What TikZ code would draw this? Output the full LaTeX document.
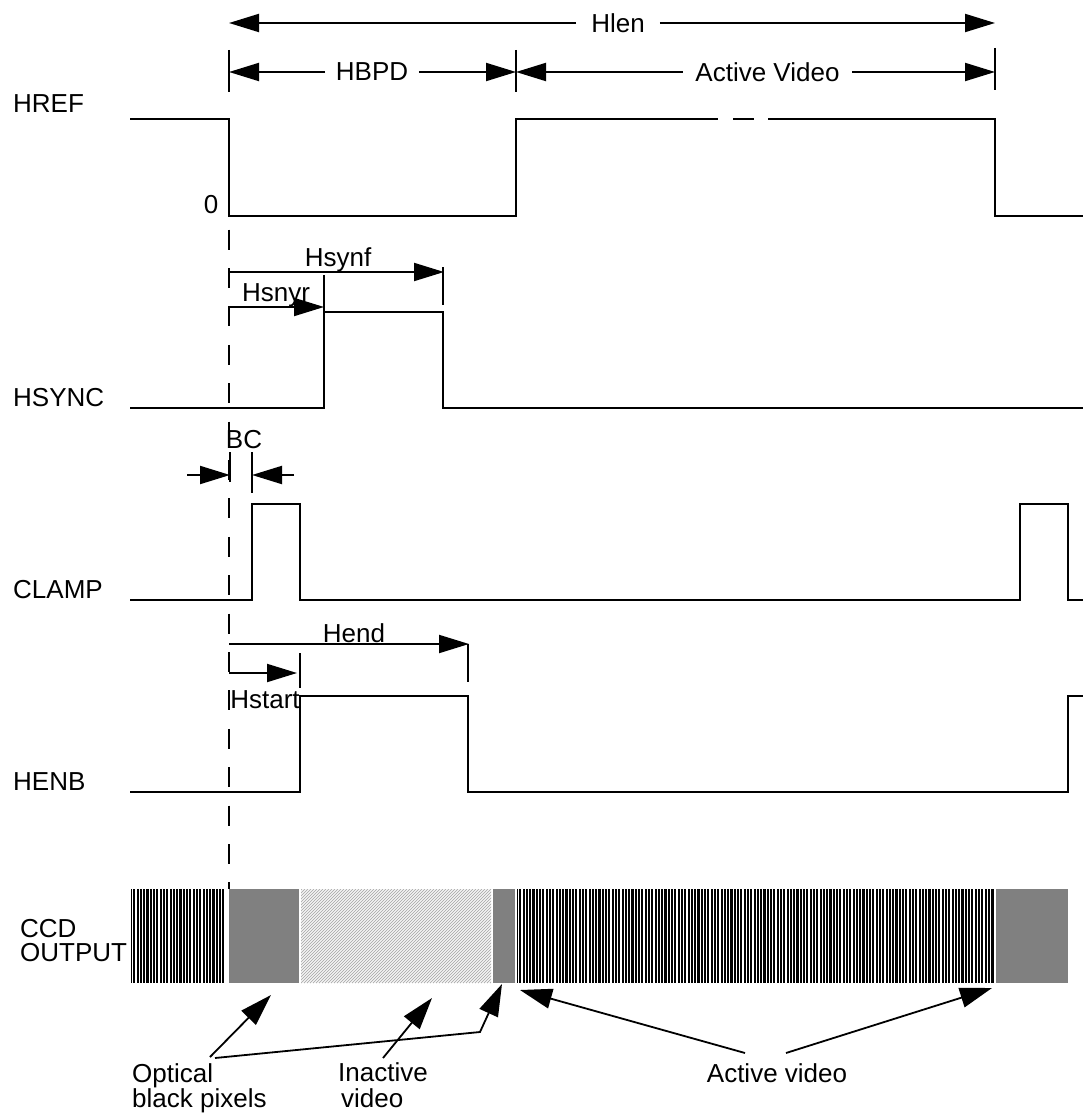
\documentclass[tikz,border=0pt]{standalone}
\usepackage{fontspec}
\setmainfont{Liberation Sans}
\usetikzlibrary{arrows.meta}
\definecolor{ccdgray}{RGB}{128,128,128}
\begin{document}
\begin{tikzpicture}[x=1pt,y=-1pt,
  sig/.style={line width=2.6pt},
  dimln/.style={line width=2pt},
  dimarr/.style={line width=2pt,-{Triangle[length=30pt,width=18pt]}},
  callout/.style={line width=1.8pt,-{Triangle[length=32pt,width=20pt]}},
  lbl/.style={font=\fontsize{26}{24}\selectfont,inner sep=0pt}]
\useasboundingbox (0,0) rectangle (1083,1115);
\fill[white] (0,0) rectangle (1083,1115);

% ---------- left labels
\node[lbl,anchor=base west] (lhref) at (13,113) {HREF};
\node[lbl,anchor=base west] (lhsync) at (13,406) {HSYNC};
\node[lbl,anchor=base west] (lclamp) at (13,598) {CLAMP};
\node[lbl,anchor=base west] (lhenb) at (13,790) {HENB};
\node[lbl,anchor=north west,align=left] (lccd) at (20,919) {CCD\\OUTPUT};

% ---------- top dimension lines
\node[lbl,inner xsep=15pt] (hlen) at (618,23) {Hlen};
\draw[dimarr] (hlen.west) -- (229,23);
\draw[dimarr] (hlen.east) -- (995,23);

\draw[dimln] (229,50) -- (229,92);
\draw[dimln] (516,50) -- (516,92);
\draw[dimln] (995,48) -- (995,90);
\node[lbl,inner xsep=10.5pt] (hbpd) at (372,72) {HBPD};
\draw[dimarr] (hbpd.west) -- (229,72);
\draw[dimarr] (hbpd.east) -- (516,72);
\node[lbl,inner xsep=12.5pt] (actv) at (767.5,72) {Active Video};
\draw[dimarr] (actv.west) -- (516,72);
\draw[dimarr] (actv.east) -- (995,72);

% ---------- HREF
\draw[sig] (130,119) -- (229,119) -- (229,216) -- (516,216) -- (516,119) -- (718,119);
\draw[sig] (733,119) -- (754,119);
\draw[sig] (768,119) -- (995,119) -- (995,216) -- (1083,216);
\node[lbl,anchor=base] (zero) at (211,214) {0};

% ---------- reference dashed line
\draw[line width=2pt,dash pattern=on 20pt off 18.4pt] (229,229.6) -- (229,889);

% ---------- HSYNC
\draw[sig] (130,408) -- (324,408) -- (324,312) -- (443,312) -- (443,408) -- (1083,408);
\draw[dimln] (443,267) -- (443,305);
\draw[dimln] (324,275) -- (324,312);
\draw[dimarr] (229,272) -- (444,272);
\draw[dimarr] (229,307) -- (324,307);
\node[lbl,anchor=base] (hsynf) at (338,266) {Hsynf};
\node[lbl,anchor=base] (hsnyr) at (276,301) {Hsnyr};

% ---------- CLAMP
\draw[sig] (130,600) -- (252,600) -- (252,504) -- (300,504) -- (300,600) -- (1020,600)
  -- (1020,504) -- (1068,504) -- (1068,600) -- (1083,600);
\draw[line width=2.4pt] (230,452) -- (230,482);
\draw[dimln] (252,452) -- (252,493);
\draw[dimarr] (187,475) -- (230,475);
\draw[dimarr] (294,475) -- (252,475);
\node[lbl,anchor=base] (bc) at (244,448) {BC};

% ---------- HENB
\draw[sig] (130,792) -- (300,792) -- (300,696) -- (468,696) -- (468,792) -- (1068,792)
  -- (1068,696) -- (1083,696);
\draw[dimln] (468,644) -- (468,682);
\draw[dimln] (300,653) -- (300,688);
\draw[dimarr] (229,644) -- (469,644);
\draw[dimarr] (229,673) -- (297,673);
\node[lbl,anchor=base] (hend) at (354,642) {Hend};
\node[lbl,anchor=base] (hstart) at (265,708) {Hstart};

% ---------- CCD output
\fill[black] (131,889) rectangle (226,983);
\foreach \x in {132.6,135.9,...,225.5} \draw[white,line width=1.2pt] (\x,889) -- (\x,983);
\fill[black] (517,889) rectangle (994,983);
\foreach \x in {518.6,521.9,...,993.5} \draw[white,line width=1.2pt] (\x,889) -- (\x,983);
\fill[ccdgray] (229,889) rectangle (299,983);
\fill[ccdgray] (493,889) rectangle (515,983);
\fill[ccdgray] (996,889) rectangle (1068,983);
\begin{scope}
  \clip (301,889) rectangle (491,983);
  \foreach \x in {205,208,...,494} \draw[gray!60,line width=0.8pt] (\x,983) -- ++(94,-94);
\end{scope}

% ---------- bottom labels and callouts
\node[lbl,anchor=north west,align=left] (optlbl) at (132,1063) {Optical\\black pixels};
\node[lbl,anchor=north west,align=left,font=\fontsize{26}{26.5}\selectfont] (inalbl) at (338,1062) {Inactive\\\hspace*{3pt}video};
\node[lbl,anchor=base] (actvid) at (777,1082) {Active video};

\coordinate (optA) at (210,1057);
\coordinate (optB) at (215,1058);
\coordinate (bend) at (480,1032);
\coordinate (inaA) at (383,1058);
\coordinate (avA) at (745,1053);
\coordinate (avB) at (786,1053);
\draw[callout] (optA) -- (271,995);
\draw[callout] (optB) -- (bend) -- (502,984);
\draw[callout] (inaA) -- (432,998);
\draw[callout] (avA) -- (520,990);
\draw[callout] (avB) -- (992,988);
\end{tikzpicture}
\end{document}
